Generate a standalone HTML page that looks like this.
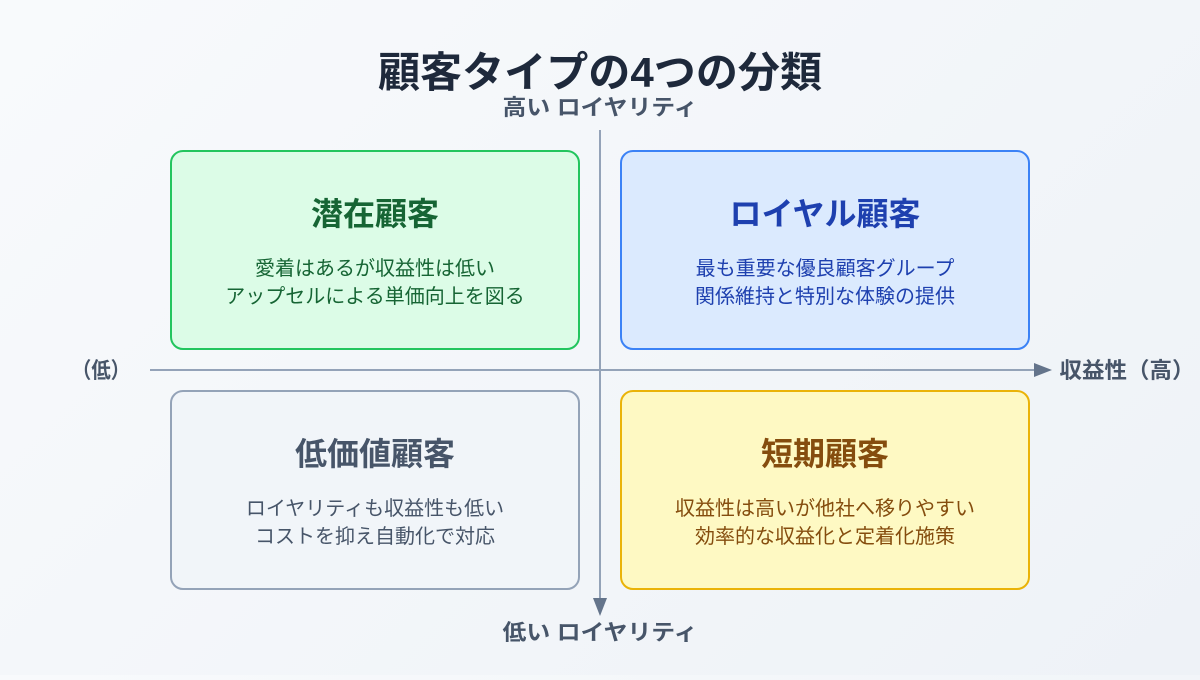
<!DOCTYPE html>
<html><head><meta charset="utf-8"><style>
html,body{margin:0;padding:0}
body{width:1200px;height:675px;overflow:hidden;background:linear-gradient(135deg,#f8fafc,#eef2f7)}
text{font-family:"Liberation Sans","Noto Sans CJK JP",sans-serif}
</style></head><body>
<svg width="1200" height="675" viewBox="0 0 1200 675" xmlns="http://www.w3.org/2000/svg">
<text x="600" y="87" text-anchor="middle" font-size="42" font-weight="bold" fill="#1e293b" textLength="444" lengthAdjust="spacingAndGlyphs">顧客タイプの4つの分類</text>
<text x="600" y="115" text-anchor="middle" font-size="22" font-weight="bold" fill="#475569" textLength="195" lengthAdjust="spacingAndGlyphs">高い ロイヤリティ</text>
<text x="600" y="640" text-anchor="middle" font-size="22" font-weight="bold" fill="#475569" textLength="195" lengthAdjust="spacingAndGlyphs">低い ロイヤリティ</text>
<text x="101" y="378" text-anchor="middle" font-size="22" font-weight="bold" fill="#475569" textLength="58" lengthAdjust="spacingAndGlyphs">（低）</text>
<text x="1127" y="378" text-anchor="middle" font-size="22" font-weight="bold" fill="#475569" textLength="135" lengthAdjust="spacingAndGlyphs">収益性（高）</text>
<line x1="150" y1="370" x2="1038" y2="370" stroke="#94a3b8" stroke-width="2"/>
<polygon points="1052,370 1034,363 1034,377" fill="#64748b"/>
<line x1="600" y1="130" x2="600" y2="602" stroke="#94a3b8" stroke-width="2"/>
<polygon points="600,616 593,598 607,598" fill="#64748b"/>
<rect x="171" y="151" width="408" height="198" rx="12" fill="#dcfce7" stroke="#22c55e" stroke-width="2"/>
<rect x="621" y="151" width="408" height="198" rx="12" fill="#dbeafe" stroke="#3b82f6" stroke-width="2"/>
<rect x="171" y="391" width="408" height="198" rx="12" fill="#f1f5f9" stroke="#94a3b8" stroke-width="2"/>
<rect x="621" y="391" width="408" height="198" rx="12" fill="#fef9c3" stroke="#eab308" stroke-width="2"/>
<g text-anchor="middle">
<text x="375" y="225" font-size="32" font-weight="bold" fill="#166534">潜在顧客</text>
<text x="375" y="275" font-size="20" fill="#166534">愛着はあるが収益性は低い</text>
<text x="375" y="303" font-size="20" fill="#166534">アップセルによる単価向上を図る</text>
<text x="825" y="225" font-size="32" font-weight="bold" fill="#1e40af">ロイヤル顧客</text>
<text x="825" y="275" font-size="20" fill="#1e40af">最も重要な優良顧客グループ</text>
<text x="825" y="303" font-size="20" fill="#1e40af">関係維持と特別な体験の提供</text>
<text x="375" y="465" font-size="32" font-weight="bold" fill="#475569">低価値顧客</text>
<text x="375" y="515" font-size="20" fill="#475569">ロイヤリティも収益性も低い</text>
<text x="375" y="543" font-size="20" fill="#475569">コストを抑え自動化で対応</text>
<text x="825" y="465" font-size="32" font-weight="bold" fill="#854d0e">短期顧客</text>
<text x="825" y="515" font-size="20" fill="#854d0e">収益性は高いが他社へ移りやすい</text>
<text x="825" y="543" font-size="20" fill="#854d0e">効率的な収益化と定着化施策</text>
</g>
</svg>
</body></html>
